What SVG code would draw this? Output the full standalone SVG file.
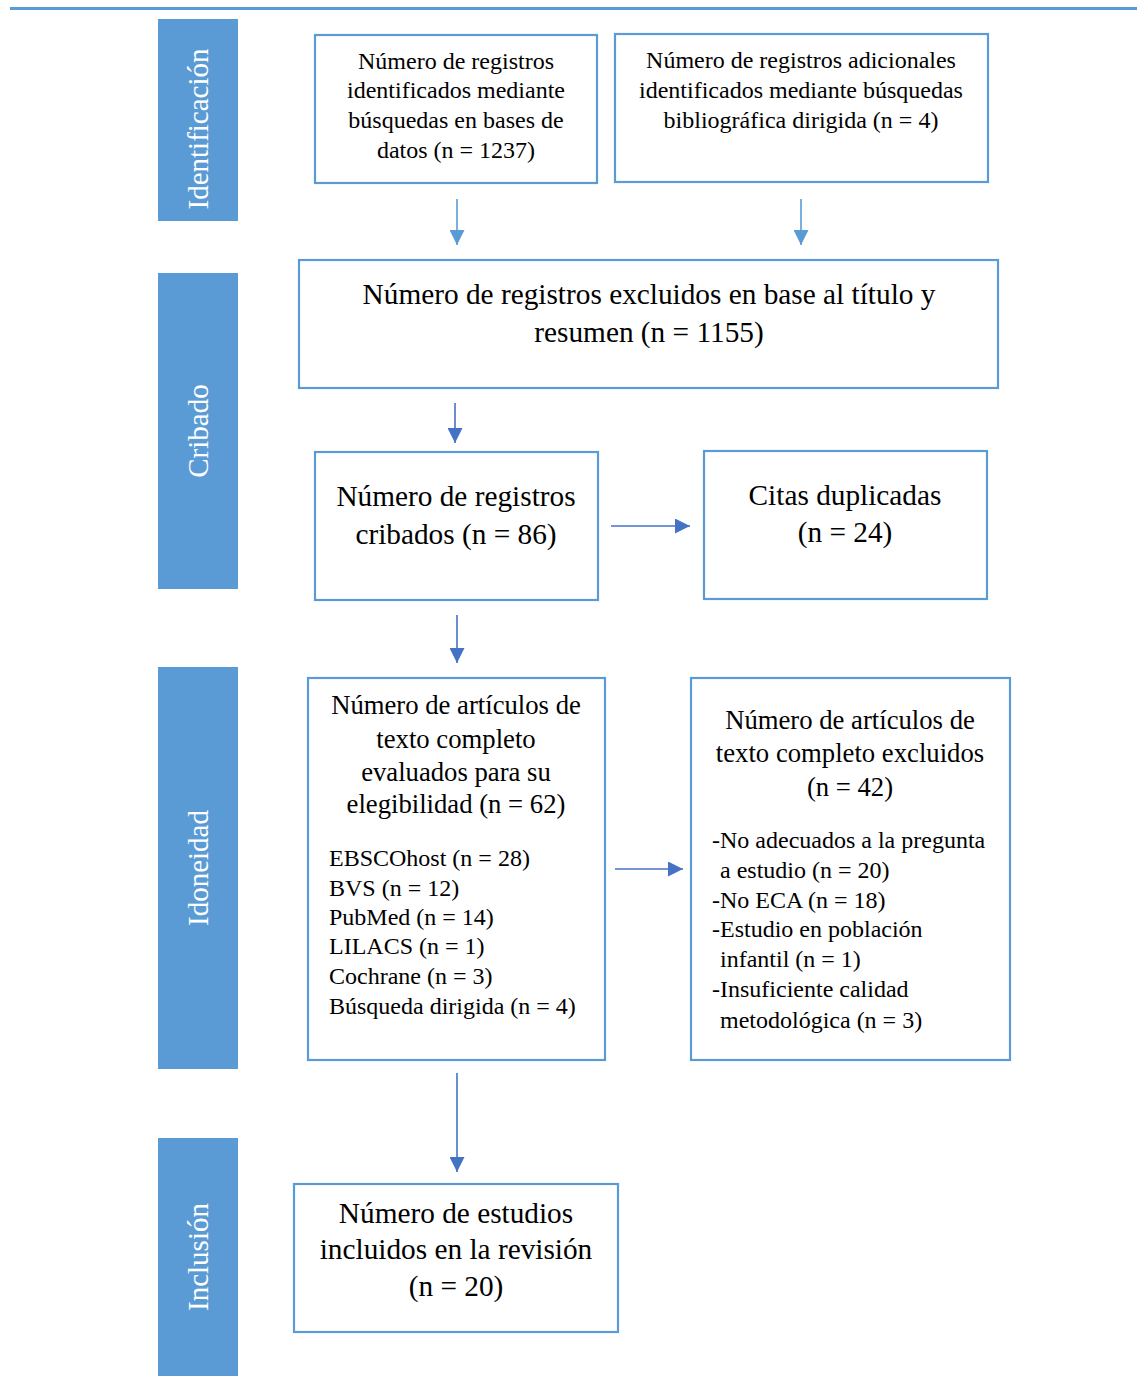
<svg xmlns="http://www.w3.org/2000/svg" width="1137" height="1388" viewBox="0 0 1137 1388">
<defs>
<style>
.side{fill:#5B9BD5}
.sidet{fill:#fff;font-family:"Liberation Serif","Times New Roman",serif;font-size:29px;text-anchor:middle}
.box{fill:#fff;stroke:#5B9BD5;stroke-width:2.2}
.t{font-family:"Liberation Serif","Times New Roman",serif;fill:#000}
.s{font-size:24px}
.m{font-size:26.7px}
.l{font-size:29.3px}
.c{text-anchor:middle}
.a1{stroke:#5B9BD5;stroke-width:1.6;fill:none}
.a2{stroke:#4472C4;stroke-width:1.6;fill:none}
</style>
<marker id="h1" viewBox="0 0 10 10" refX="10" refY="5" markerWidth="15" markerHeight="15" markerUnits="userSpaceOnUse" orient="auto"><path d="M0,0 L10,5 L0,10 Z" fill="#5B9BD5"/></marker>
<marker id="h2" viewBox="0 0 10 10" refX="10" refY="5" markerWidth="15" markerHeight="15" markerUnits="userSpaceOnUse" orient="auto"><path d="M0,0 L10,5 L0,10 Z" fill="#4472C4"/></marker>
</defs>
<rect width="1137" height="1388" fill="#fff"/>
<line x1="10" y1="8.5" x2="1137" y2="8.5" stroke="#5B9BD5" stroke-width="3"/>

<g id="phase-identificacion">
<rect class="side" x="158" y="19" width="80" height="202"/>
<text class="sidet" transform="translate(208,129) rotate(-90)">Identificación</text>
</g>
<g id="phase-cribado">
<rect class="side" x="158" y="273" width="80" height="316"/>
<text class="sidet" transform="translate(208,431) rotate(-90)">Cribado</text>
</g>
<g id="phase-idoneidad">
<rect class="side" x="158" y="667" width="80" height="402"/>
<text class="sidet" transform="translate(208,868) rotate(-90)">Idoneidad</text>
</g>
<g id="phase-inclusion">
<rect class="side" x="158" y="1138" width="80" height="238"/>
<text class="sidet" transform="translate(208,1257) rotate(-90)">Inclusión</text>
</g>

<g id="n1">
<rect class="box" x="315" y="35" width="282" height="148"/>
<text class="t s c"><tspan x="456" y="69">Número de registros</tspan><tspan x="456" y="98">identificados mediante</tspan><tspan x="456" y="128">búsquedas en bases de</tspan><tspan x="456" y="158">datos (n = 1237)</tspan></text>
</g>
<g id="n2">
<rect class="box" x="615" y="34" width="373" height="148"/>
<text class="t s c"><tspan x="801" y="68">Número de registros adicionales</tspan><tspan x="801" y="98">identificados mediante búsquedas</tspan><tspan x="801" y="128">bibliográfica dirigida (n = 4)</tspan></text>
</g>
<g id="n3">
<rect class="box" x="299" y="260" width="699" height="128"/>
<text class="t l c"><tspan x="649" y="304">Número de registros excluidos en base al título y</tspan><tspan x="649" y="342">resumen (n = 1155)</tspan></text>
</g>
<g id="n4">
<rect class="box" x="315" y="452" width="283" height="148"/>
<text class="t l c"><tspan x="456" y="506">Número de registros</tspan><tspan x="456" y="544">cribados (n = 86)</tspan></text>
</g>
<g id="n5">
<rect class="box" x="704" y="451" width="283" height="148"/>
<text class="t l c"><tspan x="845" y="505">Citas duplicadas</tspan><tspan x="845" y="542">(n = 24)</tspan></text>
</g>
<g id="n6">
<rect class="box" x="308" y="678" width="297" height="382"/>
<text class="t m c"><tspan x="456" y="714">Número de artículos de</tspan><tspan x="456" y="748">texto completo</tspan><tspan x="456" y="781">evaluados para su</tspan><tspan x="456" y="813">elegibilidad (n = 62)</tspan></text>
<text class="t s"><tspan x="329" y="866">EBSCOhost (n = 28)</tspan><tspan x="329" y="896">BVS (n = 12)</tspan><tspan x="329" y="925">PubMed (n = 14)</tspan><tspan x="329" y="954">LILACS (n = 1)</tspan><tspan x="329" y="984">Cochrane (n = 3)</tspan><tspan x="329" y="1014">Búsqueda dirigida (n = 4)</tspan></text>
</g>
<g id="n7">
<rect class="box" x="691" y="678" width="319" height="382"/>
<text class="t m c"><tspan x="850" y="729">Número de artículos de</tspan><tspan x="850" y="762">texto completo excluidos</tspan><tspan x="850" y="796">(n = 42)</tspan></text>
<text class="t s"><tspan x="712" y="848">-No adecuados a la pregunta</tspan><tspan x="720" y="878">a estudio (n = 20)</tspan><tspan x="712" y="908">-No ECA (n = 18)</tspan><tspan x="712" y="937">-Estudio en población</tspan><tspan x="720" y="967">infantil (n = 1)</tspan><tspan x="712" y="997">-Insuficiente calidad</tspan><tspan x="720" y="1028">metodológica (n = 3)</tspan></text>
</g>
<g id="n8">
<rect class="box" x="294" y="1184" width="324" height="148"/>
<text class="t l c"><tspan x="456" y="1223">Número de estudios</tspan><tspan x="456" y="1259">incluidos en la revisión</tspan><tspan x="456" y="1296">(n = 20)</tspan></text>
</g>

<g id="connectors">
<line class="a1" x1="457" y1="199" x2="457" y2="245" marker-end="url(#h1)"/>
<line class="a1" x1="801" y1="199" x2="801" y2="245" marker-end="url(#h1)"/>
<line class="a2" x1="455" y1="403" x2="455" y2="443" marker-end="url(#h2)"/>
<line class="a2" x1="611" y1="526" x2="690" y2="526" marker-end="url(#h2)"/>
<line class="a2" x1="457" y1="615" x2="457" y2="663" marker-end="url(#h2)"/>
<line class="a2" x1="615" y1="869" x2="683" y2="869" marker-end="url(#h2)"/>
<line class="a2" x1="457" y1="1073" x2="457" y2="1172" marker-end="url(#h2)"/>
</g>
</svg>
